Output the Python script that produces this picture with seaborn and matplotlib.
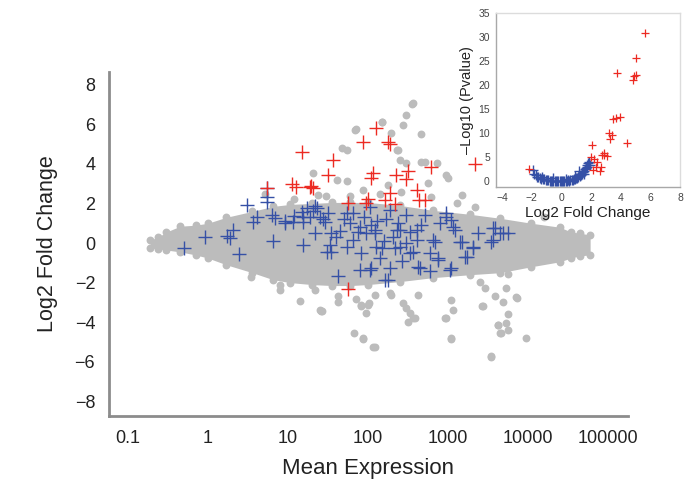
import numpy as np
import pandas as pd
import matplotlib
matplotlib.use("Agg")
import matplotlib.pyplot as plt
from matplotlib.ticker import FixedLocator, FixedFormatter
import seaborn as sns

# Enveloppe du nuage gris
band_x = [0.19, 0.24, 0.3, 0.45, 0.7, 1.0, 1.7, 3.6, 6.5, 10.6, 20, 36, 60, 100,
          250, 650, 1900, 4500, 11000, 25000, 35000, 45000, 60000]
band_up = [0.15, 0.3, 0.55, 0.85, 0.9, 1.0, 1.3, 1.6, 1.85, 1.95, 2.0, 2.05, 2.05, 2.05,
           1.9, 1.65, 1.45, 1.25, 1.0, 0.8, 0.55, 0.5, 0.4]
band_low = [-0.25, -0.3, -0.35, -0.45, -0.6, -0.76, -1.1, -1.5, -1.85, -2.0, -2.1, -2.15, -2.15, -2.1,
            -1.95, -1.75, -1.6, -1.5, -1.2, -0.95, -0.75, -0.65, -0.6]

# Points gris isolés
grey_x = [352, 370, 303, 274, 152, 148, 71, 197, 462, 47, 54, 232, 251, 303, 466, 725, 20.7,
          54, 87.6, 960, 1000, 570, 179, 40.5, 1480, 516, 238, 68.8,
          14.1, 21.6, 25.6, 41.7, 71, 81.5, 96, 104, 122, 67, 87.6, 122, 197, 274, 303, 335,
          370, 318, 425, 916, 1104, 1160, 1087, 2512, 2900, 2700, 3850, 4880, 5380, 5640,
          4230, 4650, 5640, 3440, 7200, 5640, 86, 115, 1100, 3500, 9600, 4470, 5380, 4200,
          2770, 7400, 960, 388, 188, 101, 83, 42.5, 25, 7.9, 26.4,
          30, 140, 260, 620, 1300, 12, 5.2, 24, 60, 8, 3.5, 2200, 16000]
grey_y = [7.02, 7.05, 6.46, 5.96, 6.1, 6.13, 5.74, 5.57, 5.49, 4.78, 4.7, 4.7, 4.19, 4.03, 4.1, 4.03, 3.52,
          3.15, 2.68, 3.43, 3.27, 3.02, 2.93, 3.18, 2.42, 4.1, 4.7, 5.7,
          -2.91, -2.37, -3.42, -3.0, -2.84, -3.13, -3.52, -3.05, -2.63, -4.56, -4.85, -5.27, -2.63, -3.05, -3.3, -3.55,
          -3.8, -3.97, -2.63, -3.8, -2.88, -3.38, -4.85, -1.95, -2.29, -3.18, -2.68, -2.96, -2.29, -3.59,
          -4.14, -4.56, -4.39, -5.74, -2.71, -1.57, -4.8, -5.24, -4.81, -5.7, -4.78, -4.55, -4.06, -4.14,
          -3.2, -2.78, -3.8, -3.8, -2.54, -3.13, -3.2, -2.7, -3.38, -2.37, -3.42,
          2.4, 2.5, 2.6, 2.3, 2.0, 2.2, 2.5, 2.45, 2.35, -2.1, -1.7, 1.8, 1.3]

# Gènes significatifs, peu changés (bleu)
blue_x = [0.5, 0.92, 1.71, 1.88, 2.07, 2.42, 3.08, 3.7, 4.07, 5.4, 5.4, 5.5, 6.25, 6.9, 6.55, 9.2,
          11.6, 15.5, 15.5, 15.5, 17.1, 20.8, 21.7, 21.7, 25, 27.7, 29, 31.8, 33.5, 35, 35, 40.4,
          44.7, 42.5, 22.8, 18.8, 14.8, 30.5, 54, 65.5, 65.5, 75, 79, 79, 83, 96, 106, 106, 110,
          110, 122, 122, 128, 141, 148, 163, 179, 188, 188, 206, 216, 228, 251, 251, 303, 335,
          335, 370, 406, 406, 425, 447, 516, 596, 650, 683, 753, 753, 960, 960, 1100, 1160, 1100,
          1059, 1220, 1413, 1480, 1620, 1730, 2070, 2070, 2400, 3650, 3650, 3850, 3500, 4470,
          4880, 5640, 9.2, 12, 50, 60, 90, 130, 170, 240, 300, 55, 160, 460, 800, 270, 600]
blue_y = [-0.27, 0.28, 0.37, 0.24, 0.65, -0.56, 1.92, 1.05, 1.33, 2.8, 2.3, 2.05, 1.41, 1.27, 0.12, 1.0,
          1.08, -0.1, 1.33, 1.08, 1.75, 1.6, 1.85, 0.49, 1.33, 1.2, 1.08, 1.5, -0.1, -0.44, 0.49, 0.32,
          0.6, -1.68, 1.75, 1.33, 1.58, -0.44, 1.5, 0.15, 1.5, 0.57, 0.82, -1.36, -0.52, 0.49, -1.36, 1.83, 0.91,
          -1.28, 0.66, 0.49, -0.19, -0.77, -0.27, -1.87, -1.87, 1.67, -1.28, 0.32, -0.27, 0.66, 0.66, -0.19, -0.02, -0.52,
          0.57, -0.44, 0.66, 0.15, -1.2, -1.28, 1.41, -0.52, 0.15, 0.07, -0.77, -0.86, 1.5, 1.33, 1.16, 0.82, -1.28,
          -1.36, 0.66, 0.07, 0.07, -0.69, -0.69, -0.19, -0.27, 0.49, 0.74, 0.15, 0.74, 0.07, 0.49,
          0.49, 0.49, 1.1, 1.35, 1.2, 1.0, 1.3, 1.1, 1.2, 1.0, 1.4, -0.2, 0.1, 0.9, 1.0, -0.9, -1.4]

# Gènes fortement sur-exprimés (rouge)
red_x = [14.8, 37, 31.9, 11.1, 12.8, 18.8, 20.7, 5.4, 128, 88, 180, 190, 614, 2200, 117, 110,
         319, 303, 222, 406, 516, 440, 101, 188, 163, 219, 57, 56, 96, 19.7]
red_y = [4.6, 4.19, 3.45, 3.0, 2.84, 2.84, 2.76, 2.79, 5.8, 5.12, 5.12, 5.0, 3.86, 3.97, 3.55, 3.27,
         3.65, 3.25, 3.43, 2.7, 2.18, 2.17, 2.2, 2.55, 2.17, 1.95, 2.0, -2.34, 2.0, 2.9]

# Encart volcano
vb_x = [-1.95, -1.85, -1.75, -1.62, -1.55, -1.45, -1.35, -1.25, -1.15, -1.07, -0.98, -0.9, -0.8, -0.72,
        -0.63, -0.55, -0.46, -0.38, -0.3, -0.22, -0.12, -0.05, 0.05, 0.12, 0.2, 0.28, 0.36, 0.45, 0.52,
        0.6, 0.68, 0.77, 0.85, 0.93, 1.0, 1.08, 1.15, 1.23, 1.3, 1.38, 1.45, 1.52, 1.58, 1.64, 1.7,
        1.75, 1.8, 1.85, 1.9, -0.6, 0.3, 0.9, 1.5, -1.3, 1.2]
vb_y = [2.3, 1.5, 1.2, 0.9, 0.8, 0.6, 0.5, 0.4, 0.35, 0.3, 0.2, 0.15, 0.1, 0.05,
        0.0, -0.1, 0.0, -0.1, 0.05, 0.0, -0.1, 0.0, -0.05, 0.0, 0.1, 0.0, 0.05, 0.15, 0.1,
        0.2, 0.3, 0.25, 0.4, 0.5, 0.6, 0.7, 0.9, 1.0, 1.2, 1.5, 1.8, 2.1, 2.4, 2.8, 3.0,
        3.4, 3.8, 4.0, 3.3, 0.6, 0.5, 1.0, 1.5, 0.9, 2.0]
vr_x = [5.61, 5.02, 3.75, 4.9, 4.85, 5.0, 3.93, 3.49, 3.7, 3.2, 3.42, 3.3, 4.45, 2.04, 2.0, 2.87,
        2.76, 3.09, 2.39, 2.65, 2.61, 2.13, -2.22, 2.2, 2.9, 2.3]
vr_y = [30.8, 25.7, 22.4, 21.9, 21.0, 22.1, 13.4, 12.9, 13.1, 10.1, 9.6, 8.7, 8.0, 7.5, 5.06, 5.77,
        5.42, 5.2, 4.0, 2.98, 2.15, 2.29, 2.44, 4.5, 5.5, 3.0]

GREY = "#bcbcbc"
BLUE = "#3550a6"
RED = "#ec2a22"
SPINE = "#8c8c8c"

sns.set_theme(style="white")
plt.rcParams["font.family"] = ["Liberation Sans", "DejaVu Sans"]

fig = plt.figure(figsize=(6.9, 4.79), dpi=100)
ax = fig.add_axes([0.158, 0.1315, 0.752, 0.7182])

# Nuage gris
ax.fill_between(band_x, band_low, band_up, color=GREY, linewidth=0, zorder=1)
edge = pd.DataFrame({"x": band_x + band_x, "y": band_up + band_low})
sns.scatterplot(data=edge, x="x", y="y", color=GREY, s=32, linewidth=0, ax=ax, zorder=1)
sns.scatterplot(x=grey_x, y=grey_y, color=GREY, s=32, linewidth=0, ax=ax, zorder=1)

# Croix bleues et rouges
sns.scatterplot(x=blue_x, y=blue_y, marker="+", color=BLUE, s=90, linewidth=1.0, ax=ax, zorder=3)
sns.scatterplot(x=red_x, y=red_y, marker="+", color=RED, s=90, linewidth=1.0, ax=ax, zorder=4)

ax.set_xscale("log")
ax.set_xlim(0.058, 178000)
ax.set_ylim(-8.74, 8.64)
xt = [0.1, 1, 10, 100, 1000, 10000, 100000]
ax.xaxis.set_major_locator(FixedLocator(xt))
ax.xaxis.set_major_formatter(FixedFormatter(["0.1", "1", "10", "100", "1000", "10000", "100000"]))
ax.xaxis.set_minor_locator(FixedLocator([]))
ax.set_yticks([-8, -6, -4, -2, 0, 2, 4, 6, 8])
ax.set_yticklabels(["\u22128", "\u22126", "\u22124", "\u22122", "0", "2", "4", "6", "8"])
for s in ["top", "right"]:
    ax.spines[s].set_visible(False)
for s in ["left", "bottom"]:
    ax.spines[s].set_color(SPINE)
    ax.spines[s].set_linewidth(2)
ax.tick_params(axis="both", which="major", direction="out", length=4, width=1.2,
               color=SPINE, labelsize=13, labelcolor="#222222", pad=6)
ax.set_xlabel("Mean Expression", fontsize=16, color="#222222", labelpad=8)
ax.set_ylabel("Log2 Fold Change", fontsize=15.5, color="#222222", labelpad=12)

# Encart
ins = fig.add_axes([0.719, 0.6096, 0.2665, 0.3633])
sns.scatterplot(x=vb_x, y=vb_y, marker="+", color=BLUE, s=45, linewidth=1.0, ax=ins, zorder=3)
sns.scatterplot(x=vr_x, y=vr_y, marker="+", color=RED, s=40, linewidth=0.9, ax=ins, zorder=4)
ins.set_xlim(-4.41, 7.7)
ins.set_ylim(-1.25, 35)
ins.set_xticks([-4, -2, 0, 2, 4, 6, 8])
ins.set_xticklabels(["\u22124", "\u22122", "0", "2", "4", "6", "8"])
ins.set_yticks([0, 5, 10, 15, 20, 25, 30, 35])
for s in ["left", "bottom"]:
    ins.spines[s].set_color("#a8a8a8")
    ins.spines[s].set_linewidth(1)
for s in ["top", "right"]:
    ins.spines[s].set_color("#dcdcdc")
    ins.spines[s].set_linewidth(1)
ins.tick_params(axis="both", direction="out", length=2.5, width=0.8, color="#a8a8a8",
                labelsize=7.5, labelcolor="#444444", pad=2)
ins.set_xlabel("Log2 Fold Change", fontsize=11, color="#222222", labelpad=2)
ins.set_ylabel("\u2013Log10 (Pvalue)", fontsize=10.5, color="#222222", labelpad=3)

fig.savefig("out.png", dpi=100)
